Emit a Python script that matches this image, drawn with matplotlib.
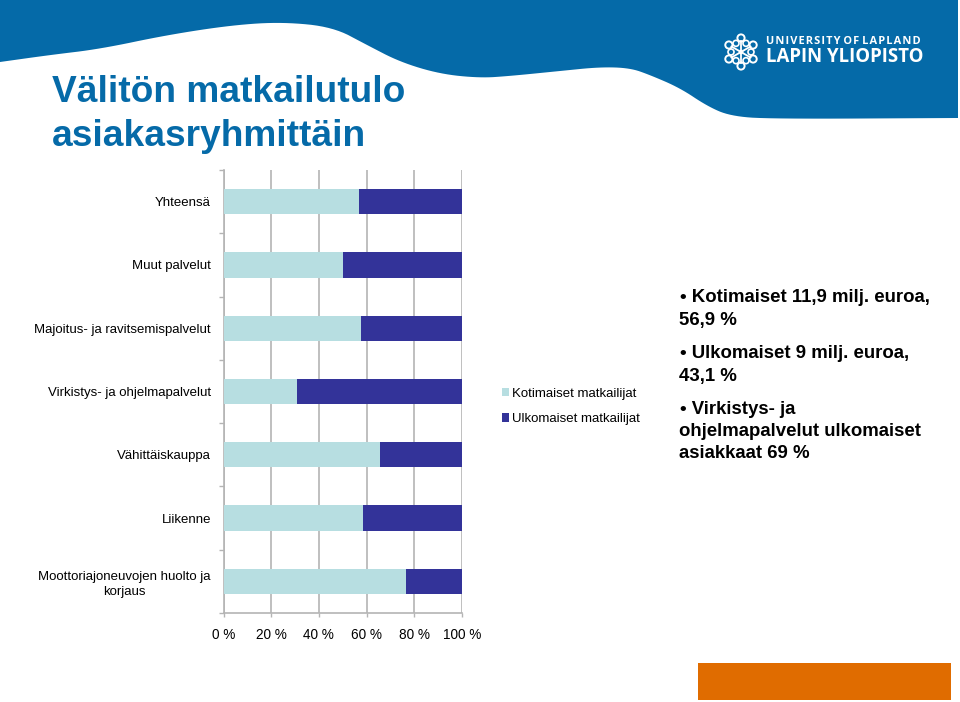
import numpy as np
import matplotlib
matplotlib.use('Agg')
import matplotlib.pyplot as plt
from matplotlib.patches import Patch, Polygon, Rectangle, Circle

plt.rcParams['font.family'] = ['Liberation Sans', 'DejaVu Sans']

# Data, top to bottom
categories = ['Yhteensä', 'Muut palvelut', 'Majoitus- ja ravitsemispalvelut',
              'Virkistys- ja ohjelmapalvelut', 'Vähittäiskauppa', 'Liikenne',
              'Moottoriajoneuvojen huolto ja\nkorjaus']
kotimaiset = [56.9, 50.0, 57.8, 31.0, 65.6, 58.3, 76.6]
ulkomaiset = [43.1, 50.0, 42.2, 69.0, 34.4, 41.7, 23.4]
series_names = ['Kotimaiset matkailijat', 'Ulkomaiset matkailijat']
x_ticks = [0, 20, 40, 60, 80, 100]
x_labels = ['0 %', '20 %', '40 %', '60 %', '80 %', '100 %']

title_lines = ['Välitön matkailutulo', 'asiakasryhmittäin']
bullets = ['• Kotimaiset 11,9 milj. euroa,', '56,9 %',
           '• Ulkomaiset 9 milj. euroa,', '43,1 %',
           '• Virkistys- ja', 'ohjelmapalvelut ulkomaiset', 'asiakkaat 69 %']

BLUE = '#056AA8'
LIGHT = '#B7DEE1'
DARK = '#333399'
GRID = '#B4B4B4'

fig = plt.figure(figsize=(9.6, 7.02), dpi=100)

# Background layer in pixel coordinates for the slide decoration
bg = fig.add_axes([0, 0, 1, 1])
bg.set_xlim(0, 960)
bg.set_ylim(702, 0)
bg.axis('off')

# Top banner, the lower edge is rounded by corner cutting
edge = np.array([(0, 62), (50, 55), (100, 49), (167, 35), (233, 25), (283, 22), (333, 27),
                 (367, 45), (400, 62), (440, 74), (480, 78), (510, 76),
                 (560, 71), (600, 67), (630, 68), (650, 75), (680, 88), (707, 106),
                 (730, 116), (770, 119), (958, 118)], dtype=float)
for _ in range(3):
    cut = np.empty((2 * len(edge) - 2, 2))
    cut[0::2] = 0.75 * edge[:-1] + 0.25 * edge[1:]
    cut[1::2] = 0.25 * edge[:-1] + 0.75 * edge[1:]
    edge = np.vstack([edge[0], cut, edge[-1]])
outline = np.vstack([edge, [(958, 0), (0, 0)]])
bg.add_patch(Polygon(outline, closed=True, fc=BLUE, ec='none'))

# Logo
cx, cy = 741, 52
for ang in np.arange(6) * np.pi / 3 + np.pi / 6:
    ux, uy = np.cos(ang), np.sin(ang)
    bg.plot([cx + 3 * ux, cx + 11 * ux], [cy + 3 * uy, cy + 11 * uy], color='white', lw=1.3)
    bg.add_patch(Circle((cx + 14 * ux, cy + 14 * uy), 3.6, fc='none', ec='white', lw=1.4))
    a2 = ang + np.pi / 6
    bg.add_patch(Circle((cx + 10 * np.cos(a2), cy + 10 * np.sin(a2)), 3.0, fc='none', ec='white', lw=1.2))
bg.add_patch(Circle((cx, cy), 2.5, fc='white', ec='none'))
bg.text(766, 41.5, 'U N I V E R S I T Y  O F  L A P L A N D'.replace(' ', '\u200a').replace('\u200a\u200a', ' '),
        color='white', fontsize=7.95, fontweight='bold', family=['Open Sans', 'DejaVu Sans'], va='center', ha='left')
bg.text(766, 56.5, 'LAPIN YLIOPISTO', color='white', fontsize=13.4, fontweight='bold',
        family=['Open Sans', 'DejaVu Sans'], va='center', ha='left')

# Title
for line, y in zip(title_lines, [102, 146.5]):
    bg.text(52, y, line, color=BLUE, fontsize=26.7, fontweight='bold', va='baseline', ha='left')

# Text on the right
bullet_y = [297, 320, 353, 376, 409, 432, 454]
for line, y in zip(bullets, bullet_y):
    bg.text(680 if line.startswith('•') else 679, y, line, color='black', fontsize=13.4,
            fontweight='bold', va='center', ha='left')

# Orange box
bg.add_patch(Rectangle((698, 662.5), 253, 37.5, fc='#E06C00', ec='none'))

# Chart
ax = fig.add_axes([223.5 / 960, 1 - 613 / 702, 238.5 / 960, 443 / 702])
ax.patch.set_alpha(0)
y_pos = np.arange(len(categories))
ax.barh(y_pos, kotimaiset, height=0.4, color=LIGHT, zorder=3)
ax.barh(y_pos, ulkomaiset, height=0.4, left=kotimaiset, color=DARK, zorder=3)

ax.set_xlim(0, 100)
ax.set_ylim(len(categories) - 0.5, -0.5)
ax.set_xticks(x_ticks)
ax.set_xticklabels(x_labels, fontsize=9.8)
ax.set_yticks(y_pos)
ax.set_yticklabels(categories, fontsize=9.5, multialignment='center', linespacing=1.3)
ax.set_yticks(np.arange(len(categories) + 1) - 0.5, minor=True)
ax.tick_params(axis='y', which='major', length=0, pad=9)
ax.tick_params(axis='y', which='minor', length=3.5, width=1, color=GRID)
ax.tick_params(axis='x', length=3, width=1, color=GRID, pad=8)
ax.grid(axis='x', color=GRID, lw=1.2, zorder=0)
ax.set_axisbelow(True)
for side in ['top', 'right']:
    ax.spines[side].set_visible(False)
for side in ['left', 'bottom']:
    ax.spines[side].set_color(GRID)
    ax.spines[side].set_linewidth(1.2)

handles = [Patch(fc=LIGHT, ec='none'), Patch(fc=DARK, ec='none')]
fig.legend(handles, series_names, loc='center left', bbox_to_anchor=(502 / 960, 1 - 406.5 / 702),
           frameon=False, fontsize=9.55, handlelength=0.55, handleheight=0.6, handletextpad=0.22,
           labelspacing=1.0, borderaxespad=0, borderpad=0)

fig.savefig('out.png', dpi=100)
